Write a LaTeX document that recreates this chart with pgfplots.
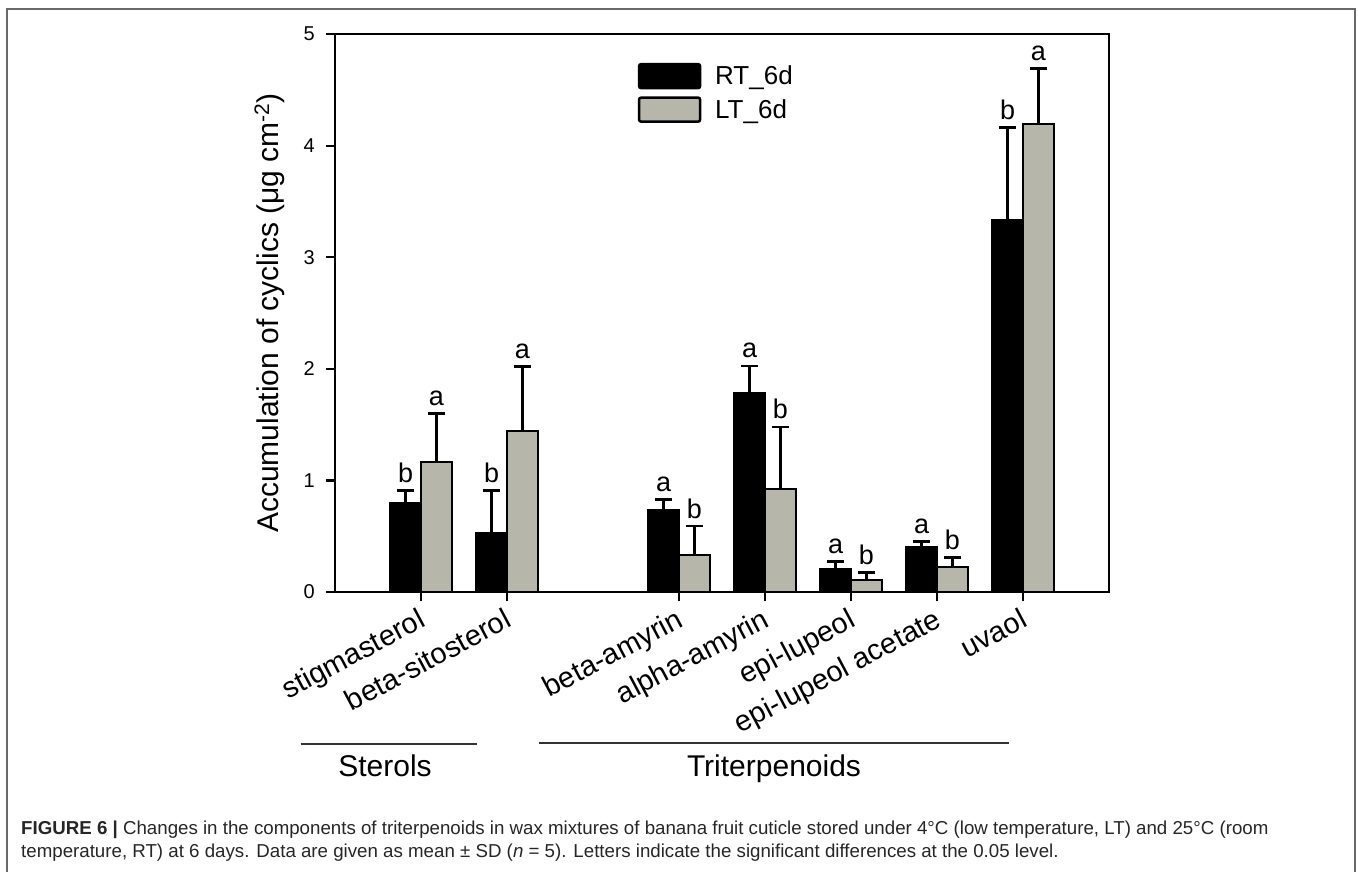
\documentclass[border=0pt]{standalone}
\usepackage{fontspec}
\setmainfont{Liberation Sans}
\usepackage{pgfplots}
\pgfplotsset{compat=1.18}
\definecolor{ltgrey}{RGB}{182,182,170}
\definecolor{framegrey}{RGB}{105,105,105}
\begin{document}
\begin{tikzpicture}[x=1pt,y=1pt]
\begin{axis}[
  at={(335pt,-592pt)}, anchor=south west,
  scale only axis, width=774pt, height=558pt,
  xmin=0, xmax=9, ymin=0, ymax=5,
  clip=false,
  axis line style={line width=2.4pt, black},
  tick style={line width=2.2pt, black},
  major tick length=9pt,
  tick align=outside,
  xtick pos=bottom, ytick pos=left,
  ytick={0,1,2,3,4,5},
  xtick={1,2,4,5,6,7,8},
  xticklabels={stigmasterol, beta-sitosterol, beta-amyrin, alpha-amyrin, epi-lupeol, epi-lupeol acetate, uvaol},
  yticklabel style={font=\fontsize{20}{22}\selectfont, /pgf/number format/assume math mode=true, inner sep=0pt, xshift=-11pt},
  xticklabel style={font=\fontsize{29}{32}\selectfont, xshift=-4pt, yshift=-6pt, rotate=28, anchor=north east, inner sep=0pt},
  ylabel={Accumulation of cyclics (μg cm\textsuperscript{-2})},
  ylabel style={font=\fontsize{30}{32}\selectfont, at={(axis description cs:-0.0736,0.5)}, anchor=base},
  legend style={at={(axis description cs:0.391,0.9486)}, anchor=north west, draw=none, fill=none, inner sep=0pt, row sep=7pt, font=\fontsize{26}{28}\selectfont, nodes={inner sep=0pt}},
  legend cell align=left,
]
\addplot[ybar, bar width=0.36, bar shift=0pt, fill=black, draw=black, line width=2.2pt,
  legend image code/.code={\draw[fill=black, draw=black, line width=2.5pt, rounded corners=2pt] (0pt,-12pt) rectangle (61pt,12pt); \path (75pt,0pt);},
  error bars/.cd, y dir=plus, y explicit,
  error bar style={line width=2.2pt, black},
  error mark options={rotate=90, line width=2.6pt, mark size=8.5pt, black}]
coordinates {
 (0.82,0.800) +- (0,0.110)
 (1.82,0.530) +- (0,0.380)
 (3.82,0.735) +- (0,0.095)
 (4.82,1.786) +- (0,0.240)
 (5.82,0.206) +- (0,0.070)
 (6.82,0.406) +- (0,0.045)
 (7.82,3.333) +- (0,0.830)
};
\addlegendentry{RT\_6d}
\addplot[ybar, bar width=0.36, bar shift=0pt, fill=ltgrey, draw=black, line width=2.2pt,
  legend image code/.code={\draw[fill=ltgrey, draw=black, line width=2.5pt, rounded corners=2pt] (0pt,-12pt) rectangle (61pt,12pt); \path (75pt,0pt);},
  error bars/.cd, y dir=plus, y explicit,
  error bar style={line width=2.2pt, black},
  error mark options={rotate=90, line width=2.6pt, mark size=8.5pt, black}]
coordinates {
 (1.18,1.165) +- (0,0.435)
 (2.18,1.443) +- (0,0.580)
 (4.18,0.330) +- (0,0.260)
 (5.18,0.920) +- (0,0.560)
 (6.18,0.108) +- (0,0.065)
 (7.18,0.227) +- (0,0.083)
 (8.18,4.190) +- (0,0.500)
};
\addlegendentry{LT\_6d}
\addplot[forget plot, draw=none, mark=none, nodes near coords, point meta=explicit symbolic,
  nodes near coords style={anchor=base, yshift=8pt, inner sep=0pt, font=\fontsize{27}{29}\selectfont, black}]
coordinates {
 (0.82,0.910)[b] (1.82,0.910)[b] (3.82,0.830)[a] (4.82,2.026)[a]
 (5.82,0.276)[a] (6.82,0.451)[a] (7.82,4.163)[b]
 (1.18,1.600)[a] (2.18,2.023)[a] (4.18,0.590)[b] (5.18,1.480)[b]
 (6.18,0.173)[b] (7.18,0.310)[b] (8.18,4.690)[a]
};
\end{axis}
% group annotations
\draw[line width=1.2pt, black!80] (300.7,-744) -- (476.7,-744);
\draw[line width=1.2pt, black!80] (539.3,-743) -- (1008.7,-743);
\node[anchor=base, inner sep=0pt, font=\fontsize{30}{32}\selectfont] at (385,-776) {Sterols};
\node[anchor=base, inner sep=0pt, font=\fontsize{30}{32}\selectfont] at (774,-776) {Triterpenoids};
% caption
\node[anchor=base west, inner sep=0pt, font=\fontsize{18.7}{22}\selectfont, text=black!85] at (21,-834) {\textbf{FIGURE 6 |} Changes in the components of triterpenoids in wax mixtures of banana fruit cuticle stored under 4°C (low temperature, LT) and 25°C (room};
\node[anchor=base west, inner sep=0pt, font=\fontsize{18.7}{22}\selectfont, text=black!85] at (21,-857) {temperature, RT) at 6 days. Data are given as mean ± SD (\textit{n} = 5). Letters indicate the significant differences at the 0.05 level.};
% frame
\draw[framegrey, line width=1.5pt] (7,-900) -- (7,-9) -- (1355,-9) -- (1355,-900);
\pgfresetboundingbox
\path[use as bounding box] (0,0) rectangle (1358,-872);
\end{tikzpicture}
\end{document}
